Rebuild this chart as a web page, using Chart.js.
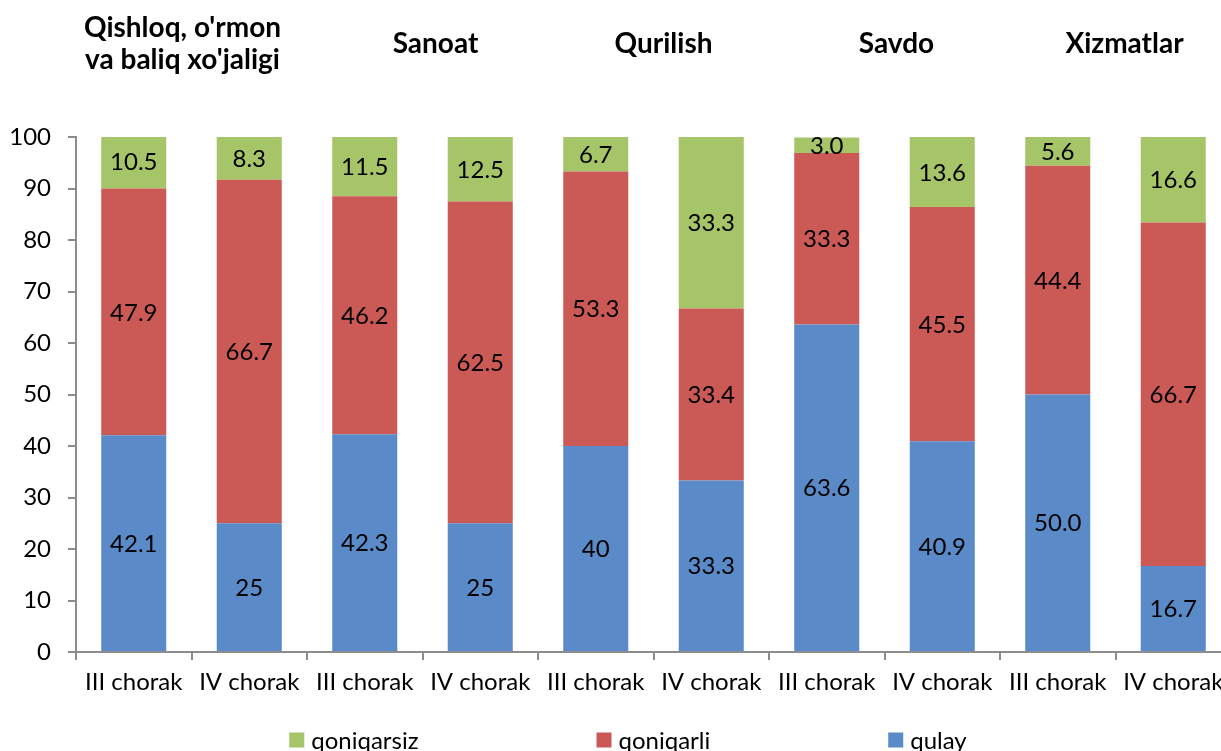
<!DOCTYPE html>
<html>
<head>
<meta charset="utf-8">
<script src="https://cdn.jsdelivr.net/npm/chart.js@4.4.1/dist/chart.umd.min.js"></script>
<style>
  html, body { margin: 0; padding: 0; background: #ffffff; overflow: hidden; }
  #wrap { position: absolute; left: 0; top: 0; width: 1240px; height: 751px; }
</style>
</head>
<body>
<div id="wrap"><canvas id="c"></canvas></div>
<script>
// ---- data ----
const categories = ['III chorak', 'IV chorak', 'III chorak', 'IV chorak', 'III chorak',
                    'IV chorak', 'III chorak', 'IV chorak', 'III chorak', 'IV chorak'];
const groupTitles = [["Qishloq, o'rmon", "va baliq xo'jaligi"], ['Sanoat'], ['Qurilish'], ['Savdo'], ['Xizmatlar']];
const qulay      = ['42.1', '25',   '42.3', '25',   '40',   '33.3', '63.6', '40.9', '50.0', '16.7'];
const qoniqarli  = ['47.9', '66.7', '46.2', '62.5', '53.3', '33.4', '33.3', '45.5', '44.4', '66.7'];
const qoniqarsiz = ['10.5', '8.3',  '11.5', '12.5', '6.7',  '33.3', '3.0',  '13.6', '5.6',  '16.6'];
const yTicks = [0, 10, 20, 30, 40, 50, 60, 70, 80, 90, 100];

const FONT = 'Lato';
const AXIS = '#8c8c8c';

const valueLabels = {
  id: 'valueLabels',
  afterDatasetsDraw(chart) {
    const ctx = chart.ctx;
    ctx.save();
    ctx.font = '24px ' + FONT;
    ctx.fillStyle = '#000';
    ctx.textAlign = 'center';
    ctx.textBaseline = 'middle';
    chart.data.datasets.forEach((ds, di) => {
      const meta = chart.getDatasetMeta(di);
      meta.data.forEach((el, i) => {
        const cy = (el.y + el.base) / 2;
        ctx.fillText(ds.data[i], el.x, cy + 1);
      });
    });
    ctx.restore();
  }
};

const groupHeaders = {
  id: 'groupHeaders',
  afterDraw(chart) {
    const ctx = chart.ctx;
    const xs = chart.scales.x;
    ctx.save();
    ctx.font = 'bold 28px ' + FONT;
    ctx.fillStyle = '#000';
    ctx.textAlign = 'center';
    ctx.textBaseline = 'alphabetic';
    const shifts = [-9, 13, 10, 12, 9];
    groupTitles.forEach((lines, g) => {
      const cx = (xs.getPixelForValue(2 * g) + xs.getPixelForValue(2 * g + 1)) / 2 + shifts[g];
      if (lines.length === 2) {
        ctx.fillText(lines[0], cx, 37);
        ctx.fillText(lines[1], cx, 69);
      } else {
        ctx.fillText(lines[0], cx, 53);
      }
    });
    ctx.restore();
  }
};

const bottomLegend = {
  id: 'bottomLegend',
  afterDraw(chart) {
    const ctx = chart.ctx;
    ctx.save();
    ctx.font = '24px ' + FONT;
    ctx.textBaseline = 'middle';
    ctx.textAlign = 'left';
    const items = chart.data.datasets.slice().reverse();
    const box = 15, gapBox = 7, gapItem = 178;
    const widths = items.map(d => box + gapBox + ctx.measureText(d.label).width);
    const total = widths.reduce((a, b) => a + b, 0) + gapItem * (items.length - 1);
    let x = 628 - total / 2;
    const y = 740;
    items.forEach((d, i) => {
      ctx.fillStyle = d.backgroundColor;
      ctx.fillRect(x, y - box / 2, box, box);
      ctx.fillStyle = '#000';
      ctx.fillText(d.label, x + box + gapBox, y + 1);
      x += widths[i] + gapItem;
    });
    ctx.restore();
  }
};

new Chart(document.getElementById('c'), {
  type: 'bar',
  data: {
    labels: categories,
    datasets: [
      { label: 'qulay', data: qulay, backgroundColor: '#5a8bc8', borderWidth: 0 },
      { label: 'qoniqarli', data: qoniqarli, backgroundColor: '#cb5a57', borderWidth: 0 },
      { label: 'qoniqarsiz', data: qoniqarsiz, backgroundColor: '#a6c468', borderWidth: 0 }
    ]
  },
  options: {
    responsive: true,
    maintainAspectRatio: false,
    animation: false,
    devicePixelRatio: 1,
    layout: { padding: { left: 0, right: 9, top: 137, bottom: 0 } },
    datasets: { bar: { barPercentage: 0.563, categoryPercentage: 1.0 } },
    plugins: {
      legend: { display: false },
      tooltip: { enabled: false },
      title: { display: false }
    },
    scales: {
      x: {
        stacked: true,
        offset: true,
        afterFit(scale) { scale.height = 99; },
        grid: { display: true, drawOnChartArea: false, drawTicks: true, tickLength: 8, color: AXIS, lineWidth: 2, offset: true },
        border: { display: true, color: AXIS, width: 2 },
        ticks: { color: '#000', font: { family: FONT, size: 24 }, padding: 8, maxRotation: 0, autoSkip: false }
      },
      y: {
        stacked: true,
        min: 0,
        max: 100,
        afterFit(scale) { scale.width = 76; },
        afterBuildTicks(scale) { scale.ticks = yTicks.map(v => ({ value: v })); },
        grid: { display: true, drawOnChartArea: false, drawTicks: true, tickLength: 8, color: AXIS, lineWidth: 2 },
        border: { display: true, color: AXIS, width: 2 },
        ticks: { color: '#000', font: { family: FONT, size: 24 }, padding: 17 }
      }
    }
  },
  plugins: [valueLabels, groupHeaders, bottomLegend]
});
</script>
</body>
</html>
